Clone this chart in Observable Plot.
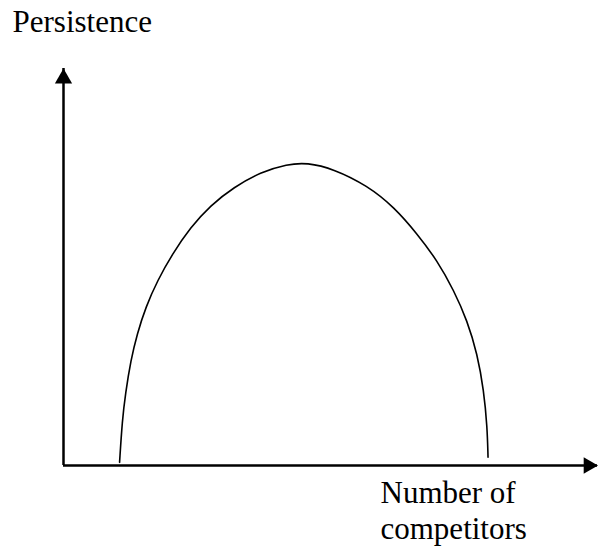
<!DOCTYPE html>
<html>
<head>
<meta charset="utf-8">
<script src="https://cdn.jsdelivr.net/npm/d3@7"></script>
<script src="https://cdn.jsdelivr.net/npm/@observablehq/plot@0.6"></script>
<style>
  html, body { margin: 0; padding: 0; background: #fff; }
  svg { display: block; }
</style>
</head>
<body>
<div id="chart"></div>
<script>
// Conceptual curve: persistence vs number of competitors (arbitrary units 0–100)
const competitors = [10.5, 11.0, 11.6, 12.6, 13.8, 15.4, 17.6, 20.4, 23.8, 27.5, 31.9, 36.9, 41.9, 45.6, 50.6, 56.9, 61.9, 66.2, 70.0, 73.1, 75.6, 77.5, 78.7, 79.35, 79.5];
const persistence = [0.8, 11.3, 18.1, 26.5, 33.2, 39.9, 46.6, 53.3, 60.0, 65.5, 70.1, 73.9, 75.9, 76.3, 74.7, 70.5, 65.1, 58.4, 51.6, 44.1, 36.5, 28.1, 18.9, 9.7, 2.1];
const yLabel = "Persistence";
const xLabel = "Number of\ncompetitors";
const axisMax = 100;

const curve = competitors.map((x, i) => ({x, y: persistence[i]}));

const font = "'Liberation Serif', 'Times New Roman', serif";

const plot = Plot.plot({
  width: 598,
  height: 553,
  marginLeft: 63,
  marginRight: 1,
  marginTop: 68,
  marginBottom: 88,
  x: {domain: [0, axisMax], axis: null},
  y: {domain: [0, axisMax], axis: null},
  style: {background: "#fff", fontFamily: font},
  marks: [
    Plot.ruleX([0], {y1: 0, y2: axisMax, stroke: "#000", strokeWidth: 2.5}),
    Plot.ruleY([0], {x1: 0, x2: axisMax, stroke: "#000", strokeWidth: 2.5}),
    Plot.dot([{x: 0, y: axisMax}], {x: "x", y: "y", symbol: "triangle", r: 6.4, fill: "#000", stroke: null, dy: 10}),
    Plot.dot([{x: axisMax, y: 0}], {x: "x", y: "y", symbol: "triangle", r: 6.2, fill: "#000", stroke: null, rotate: 90, dx: -9}),
    Plot.line(curve, {x: "x", y: "y", curve: "basis", stroke: "#000", strokeWidth: 1.6}),
    Plot.text([yLabel], {frameAnchor: "top-left", text: d => d, textAnchor: "start", lineAnchor: "bottom",
      dx: 12 - 63, dy: 31.5 - 68, fontSize: 31, fill: "#000", fontFamily: font}),
    Plot.text([xLabel], {frameAnchor: "bottom-left", text: d => d, textAnchor: "start", lineAnchor: "bottom",
      lineHeight: 1.17, dx: 380 - 63, dy: 538.5 - 465, fontSize: 31, fill: "#000", fontFamily: font})
  ]
});
document.getElementById("chart").appendChild(plot);
</script>
</body>
</html>
